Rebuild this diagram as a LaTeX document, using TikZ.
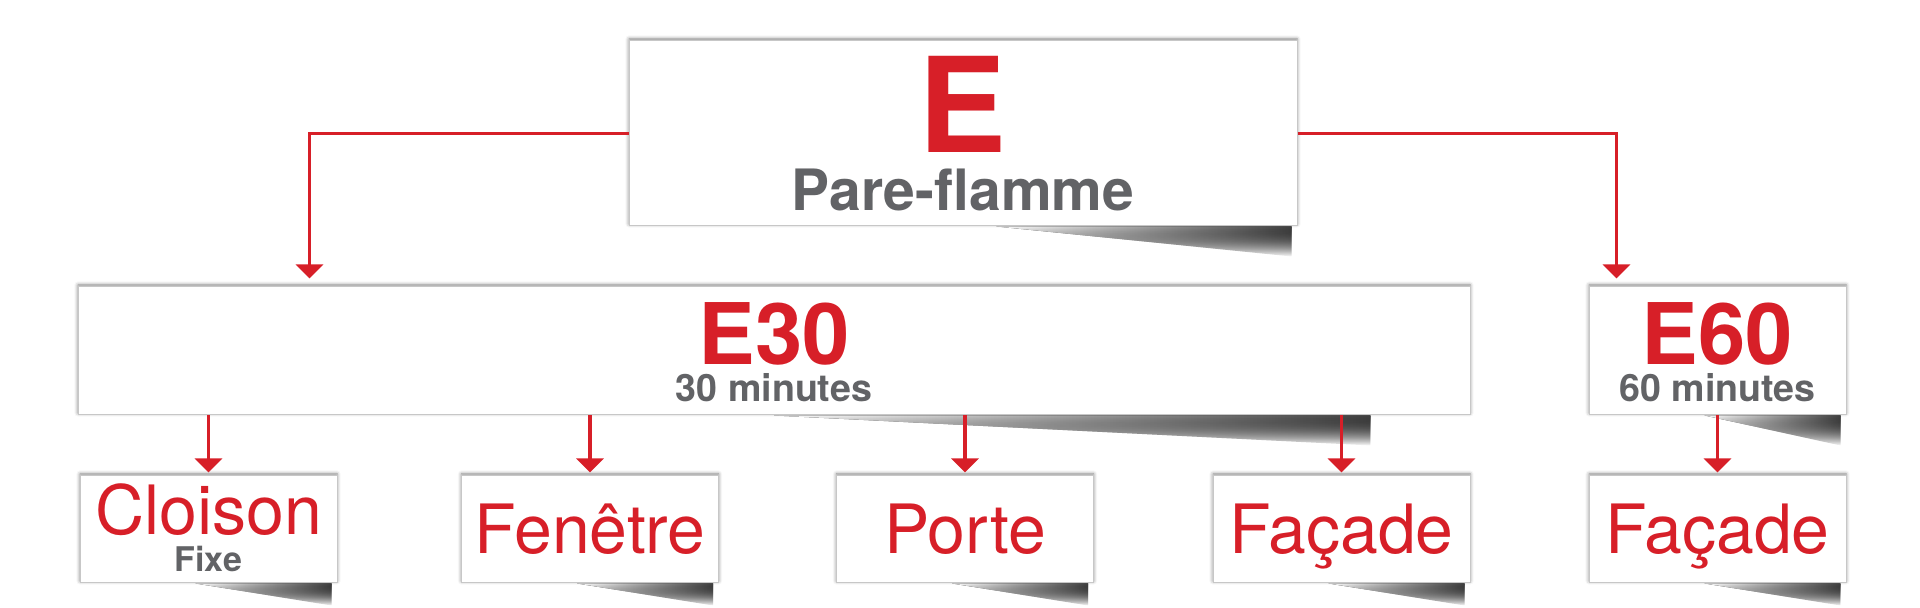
\documentclass[tikz,border=0pt]{standalone}
\usepackage{fontspec}
\setmainfont{TeX Gyre Heros}
\usetikzlibrary{arrows.meta,calc,fadings,shadows.blur}
\definecolor{flamered}{RGB}{215,31,40}
\definecolor{textgray}{RGB}{98,99,102}
\tikzset{
  card/.style={draw=black!22, line width=0.5pt, fill=white, inner sep=0pt,
    minimum width=128.5pt, minimum height=53.5pt,
    blur shadow={shadow xshift=0pt, shadow yshift=1pt, shadow blur radius=1.8pt, shadow opacity=50}},
  link/.style={draw=flamered, line width=1.75pt, -{Triangle[width=13.5pt,length=7pt]}},
  bigred/.style={anchor=base, inner sep=0pt, text=flamered, font=\bfseries\fontsize{#1}{#1}\selectfont},
  red/.style={anchor=base, inner sep=0pt, text=flamered, font=\fontsize{#1}{#1}\selectfont},
  grey/.style={anchor=base, inner sep=0pt, text=textgray, font=\bfseries\fontsize{#1}{#1}\selectfont}
}
% page curl shadow under a card: node, start, end shift, depth
\newcommand\curl[4]{%
  \fill[left color=white, right color=black!75, path fading=south]
    ($(#1.south west)!#2!(#1.south east)$) -- ([xshift=#3]#1.south east)
    -- ([xshift=#3,yshift=-#4]#1.south east) -- cycle;}

\begin{document}
\begin{tikzpicture}[x=0.5pt,y=0.5pt]
\useasboundingbox (0,0) rectangle (1920,608);

\node[card, minimum width=334pt, minimum height=92.5pt] (E) at (963,474.5) {};
\node[card, minimum width=696pt, minimum height=64pt] (E30) at (774,257) {};
\node[card, minimum height=64pt] (E60) at (1717.5,257) {};
\foreach \x/\n in {208.5/cloison,590/fenetre,965/porte,1341.5/facade,1717.5/facadeb}
  \node[card] (\n) at (\x,78.5) {};

% texts
\node[bigred=66pt] (Et) at ([yshift=-9.75pt]E.center) {E};
\node[grey=28.5pt] (Es) at ([yshift=-38.75pt]E.center) {Pare-flamme};
\node[bigred=42.5pt] (E30t) at ([yshift=-7pt]E30.center) {E30};
\node[grey=18.8pt] (E30s) at ([yshift=-25.5pt]E30.center) {30 minutes};
\node[bigred=42.5pt] (E60t) at ([yshift=-7pt]E60.center) {E60};
\node[grey=18.8pt] (E60s) at ([yshift=-25.5pt]E60.center) {60 minutes};
\node[red=34pt] (cloisont) at ([yshift=-2.75pt]cloison.center) {Cloison};
\node[grey=17pt] (cloisons) at ([yshift=-21.25pt]cloison.center) {Fixe};
\node[red=34pt] (fenetret) at ([yshift=-12.25pt]fenetre.center) {Fenêtre};
\node[red=34pt] (portet) at ([yshift=-12.25pt]porte.center) {Porte};
\node[red=34pt] (facadet) at ([yshift=-12.25pt]facade.center) {Façade};
\node[red=34pt] (facadebt) at ([yshift=-12.25pt]facadeb.center) {Façade};

% shadows
\curl{E}{0.55}{-3pt}{15pt}
\curl{E30}{0.5}{-50pt}{15pt}
\curl{E60}{0.45}{-3pt}{15pt}
\foreach \n in {cloison,fenetre,porte,facade,facadeb} {\curl{\n}{0.45}{-3pt}{11pt}}

% arrows
\draw[link, shorten >=4pt] (E.west) -| ([xshift=116pt]E30.north west);
\draw[link, shorten >=4pt] (E.east) -| ([xshift=14pt]E60.north west);
\foreach \n in {cloison,fenetre,porte,facade}
  \draw[link, shorten >=1.5pt] (E30.south -| \n.north) -- (\n.north);
\draw[link, shorten >=1.5pt] (E60.south) -- (facadeb.north);
\end{tikzpicture}
\end{document}
